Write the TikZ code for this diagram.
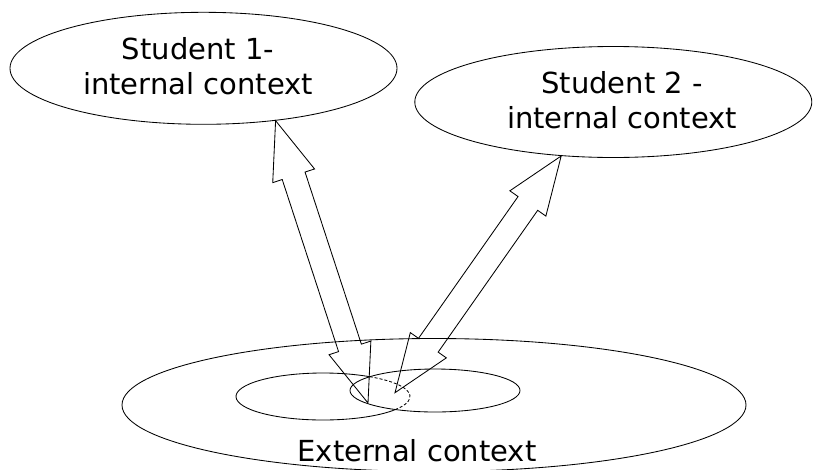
\documentclass[tikz,border=0pt]{standalone}
\usepackage{fontspec}
\setmainfont{DejaVu Sans}
\usetikzlibrary{calc,shapes.geometric}
\newcommand\dblarrow[2]{%
  \draw[blockarrow] (#1)
   -- ($(#1)!58pt!(#2)!22pt!90:(#2)$)
   -- ($(#1)!58pt!(#2)!12pt!90:(#2)$)
   -- ($(#2)!58pt!(#1)!12pt!90:(#2)$)
   -- ($(#2)!58pt!(#1)!22pt!90:(#2)$)
   -- (#2)
   -- ($(#2)!58pt!(#1)!22pt!-90:(#2)$)
   -- ($(#2)!58pt!(#1)!12pt!-90:(#2)$)
   -- ($(#1)!58pt!(#2)!12pt!-90:(#2)$)
   -- ($(#1)!58pt!(#2)!22pt!-90:(#2)$)
   -- cycle;}
\begin{document}
\begin{tikzpicture}[x=1pt,y=-1pt,
  line width=0.85pt,
  ctx/.style={draw, ellipse, inner sep=0pt},
  lbl/.style={font=\fontsize{29}{35.5}\selectfont, align=center, inner sep=0pt},
  blockarrow/.style={draw, line join=miter},
  hidden/.style={dash pattern=on 3pt off 2pt}]
\useasboundingbox (0,0) rectangle (813,469);
% student contexts
\node[ctx, minimum width=387pt, minimum height=112pt] (s1) at (203.5,68.3) {};
\node[ctx, minimum width=397pt, minimum height=111pt] (s2) at (613.3,102) {};
\node[lbl] (s1t) at (198,66) {Student 1-\\internal context};
\node[lbl] (s2t) at (622,100) {Student 2 -\\internal context};
% external context
\node[ctx, minimum width=624pt, minimum height=133pt] (ext) at (434,405) {};
\node[lbl, anchor=base] (extt) at (417,461.5) {External context};
% inner ellipses
\coordinate (ci1) at (323,396.5);
\node[ctx, minimum width=170pt, minimum height=43pt] (in2) at (435,390.5) {};
\draw ($(ci1)+({87*cos(57.5)},{-23.5*sin(57.5)})$)
  arc[start angle=57.5, end angle=326, x radius=87pt, y radius=23.5pt];
\draw[hidden] ($(ci1)+({87*cos(-34)},{-23.5*sin(-34)})$)
  arc[start angle=-34, end angle=57.5, x radius=87pt, y radius=23.5pt];
% arrows
\coordinate (a1) at (368,403);
\coordinate (a2) at (395,392.7);
\dblarrow{a1}{s1.-36.4}
\dblarrow{a2}{s2.-134.6}
\end{tikzpicture}
\end{document}
